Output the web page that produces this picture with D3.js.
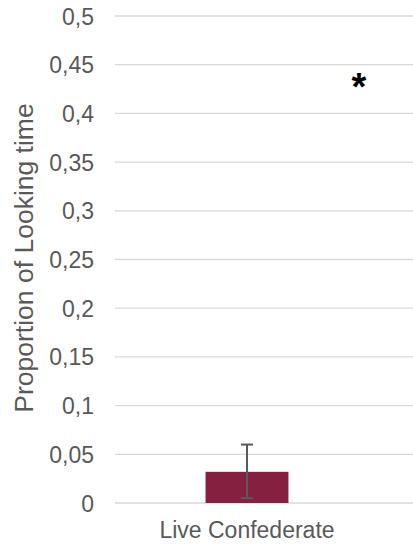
<!DOCTYPE html>
<html><head><meta charset="utf-8">
<script src="https://cdn.jsdelivr.net/npm/d3@7"></script>
<style>body{margin:0;background:#fff;} text{font-family:"Liberation Sans",Arial,sans-serif;}</style>
</head><body>
<svg id="c" width="413" height="544"></svg>
<script>
const categories = ["Live Confederate"];
const values = [0.032];
const errLow = [0.005];
const errHigh = [0.06];
const yTicks = [0,0.05,0.1,0.15,0.2,0.25,0.3,0.35,0.4,0.45,0.5];
const yTickLabels = ["0","0,05","0,1","0,15","0,2","0,25","0,3","0,35","0,4","0,45","0,5"];
const yLabel = "Proportion of Looking time";
const significance = "*";

const svg = d3.select("#c");
const y = d3.scaleLinear().domain([0,0.5]).range([503,16]);
const x = d3.scaleBand().domain(categories).range([115,379]).paddingInner(0.686).paddingOuter(0.343);
const gridX0 = 115, gridX1 = 413;

svg.append("g").selectAll("line").data(yTicks).join("line")
  .attr("x1", gridX0).attr("x2", gridX1)
  .attr("y1", d=>y(d)).attr("y2", d=>y(d))
  .attr("stroke", "#d9d9d9").attr("stroke-width", 1.3);

const yAxis = d3.axisLeft(y).tickValues(yTicks).tickFormat((d,i)=>yTickLabels[i]).tickSize(0).tickPadding(0);
const ga = svg.append("g").attr("transform","translate(94,0)").call(yAxis);
ga.select(".domain").remove();
ga.selectAll("text").attr("fill","#595959").attr("dy","0.35em")
  .style("font-size","23px").style("font-family","Liberation Sans, Arial, sans-serif");

svg.append("g").selectAll("rect").data(values).join("rect")
  .attr("x",(d,i)=>x(categories[i])).attr("width",x.bandwidth())
  .attr("y",d=>y(d)).attr("height",d=>y(0)-y(d))
  .attr("fill","#862041");

const eg = svg.append("g").attr("stroke","#595959").attr("stroke-width",2);
categories.forEach((c,i)=>{
  const cx = x(c)+x.bandwidth()/2;
  eg.append("line").attr("x1",cx).attr("x2",cx).attr("y1",y(errLow[i])).attr("y2",y(errHigh[i]));
  eg.append("line").attr("x1",cx-6).attr("x2",cx+6).attr("y1",y(errLow[i])).attr("y2",y(errLow[i]));
  eg.append("line").attr("x1",cx-6).attr("x2",cx+6).attr("y1",y(errHigh[i])).attr("y2",y(errHigh[i]));
});

svg.append("g").selectAll("text").data(categories).join("text")
  .attr("x",d=>x(d)+x.bandwidth()/2).attr("y",538)
  .attr("text-anchor","middle").attr("fill","#595959").style("font-size","23px")
  .text(d=>d);

svg.append("text").attr("transform","translate(33,258) rotate(-90)")
  .attr("text-anchor","middle").attr("fill","#595959").style("font-size","26.5px").text(yLabel);

svg.append("text").attr("x",359).attr("y",100).attr("text-anchor","middle")
  .attr("fill","#000").style("font-size","38px").style("font-weight","bold").text(significance);
</script>
</body></html>
